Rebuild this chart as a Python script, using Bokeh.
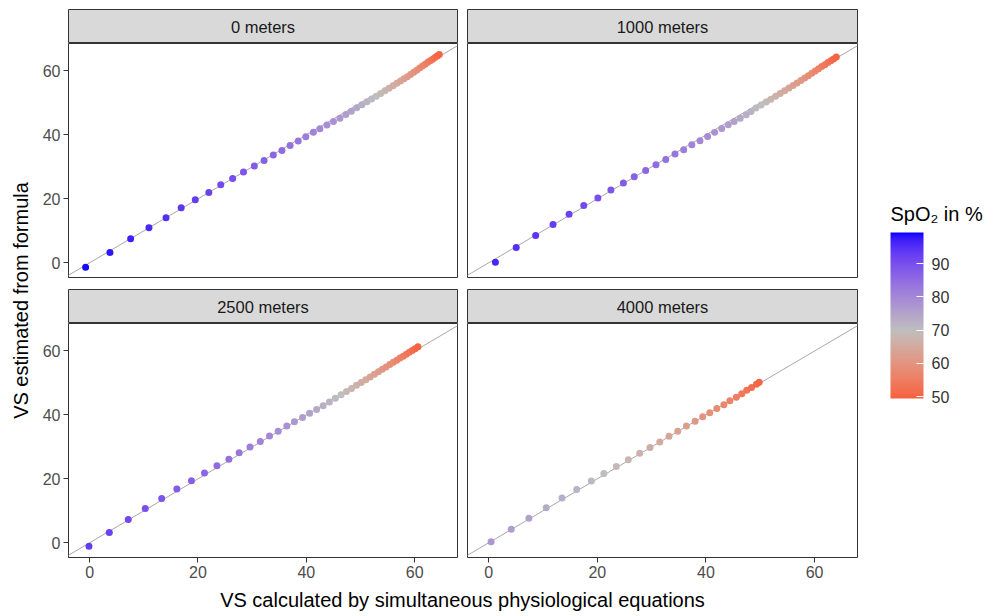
import math
from bokeh.plotting import figure
from bokeh.models import (ColumnDataSource, Range1d, LinearColorMapper, ColorBar,
                          FixedTicker, Label, Slope)
from bokeh.layouts import row, column
from bokeh.embed import file_html
from bokeh.resources import INLINE

# ---------------- data ----------------
panel_titles = ["0 meters", "1000 meters", "2500 meters", "4000 meters"]
x_ticks = [0, 20, 40, 60]
y_ticks = [0, 20, 40, 60]
legend_ticks = [50, 60, 70, 80, 90]
legend_title = "SpO\u2082 in %"
x_title = "VS calculated by simultaneous physiological equations"
y_title = "VS estimated from formula"

vs_calc_0 = [-0.74, 3.75, 7.57, 10.95, 14.1, 16.9, 19.5, 22.0, 24.2, 26.4, 28.4, 30.4, 32.2,
             33.9, 35.5, 37.0, 38.5, 39.9, 41.3, 42.5, 43.8, 45.0, 46.2, 47.3, 48.3, 49.3,
             50.25, 51.17, 52.05, 52.9, 53.72, 54.51, 55.27, 56.0, 56.7, 57.37, 58.01, 58.63,
             59.23, 59.81, 60.37, 60.91, 61.43, 61.93, 62.41, 62.87, 63.31, 63.73, 64.14, 64.54]
vs_est_0 = [-1.37, 3.21, 7.49, 11.0, 14.1, 17.2, 19.7, 22.0, 24.4, 26.4, 28.4, 30.3, 32.0,
            33.7, 35.1, 36.7, 38.1, 39.4, 40.8, 41.9, 43.1, 44.2, 45.2, 46.4, 47.4, 48.5,
            49.45, 50.37, 51.25, 52.1, 52.97, 53.81, 54.62, 55.4, 56.15, 56.87, 57.56, 58.23,
            58.93, 59.61, 60.27, 60.91, 61.53, 62.13, 62.71, 63.22, 63.71, 64.23, 64.69, 65.19]
spo2_0 = [99, 98, 97, 96, 95, 94, 93, 92, 91, 90, 89, 88, 87, 86, 85, 84, 83, 82, 81, 80,
          79, 78, 77, 76, 75, 74, 73, 72, 71, 70, 69, 68, 67, 66, 65, 64, 63, 62, 61, 60,
          59, 58, 57, 56, 55, 54, 53, 52, 51, 50]

vs_calc_1000 = [1.24, 5.07, 8.65, 11.85, 14.8, 17.5, 20.1, 22.5, 24.8, 26.8, 28.9, 30.8, 32.6,
                34.3, 35.9, 37.4, 38.9, 40.3, 41.6, 42.9, 44.1, 45.2, 46.3, 47.4, 48.3, 49.2,
                50.15, 51.07, 51.96, 52.83, 53.67, 54.48, 55.27, 56.03, 56.77, 57.48, 58.17,
                58.84, 59.49, 60.12, 60.73, 61.32, 61.89, 62.44, 62.97, 63.49, 64.0]
vs_est_1000 = [0.2, 4.8, 8.5, 12.0, 15.2, 17.9, 20.3, 22.8, 24.96, 26.9, 28.9, 30.7, 32.3,
               34.0, 35.4, 36.9, 38.2, 39.5, 40.8, 42.0, 43.2, 44.2, 45.2, 46.3, 47.3, 48.4,
               49.35, 50.27, 51.16, 52.08, 52.97, 53.83, 54.67, 55.48, 56.27, 57.03, 57.77,
               58.54, 59.29, 60.02, 60.73, 61.37, 61.99, 62.64, 63.22, 63.79, 64.4]
spo2_1000 = [96, 95, 94, 93, 92, 91, 90, 89, 88, 87, 86, 85, 84, 83, 82, 81, 80, 79, 78, 77,
             76, 75, 74, 73, 72, 71, 70, 69, 68, 67, 66, 65, 64, 63, 62, 61, 60, 59, 58, 57,
             56, 55, 54, 53, 52, 51, 50]

vs_calc_2500 = [-0.12, 3.63, 7.13, 10.27, 13.3, 16.1, 18.8, 21.2, 23.5, 25.7, 27.6, 29.6, 31.5,
                33.2, 34.8, 36.4, 37.8, 39.3, 40.6, 41.9,
                43.1, 44.25, 45.35, 46.4, 47.4, 48.35, 49.25, 50.12, 50.96, 51.77, 52.55, 53.3,
                54.02, 54.72, 55.4, 56.05, 56.68, 57.29, 57.88, 58.45, 59.0, 59.54, 60.07, 60.6]
vs_est_2500 = [-1.05, 3.22, 7.29, 10.74, 13.87, 16.8, 19.4, 21.8, 24.1, 26.1, 28.2, 30.0, 31.7,
               33.4, 34.9, 36.5, 37.9, 39.2, 40.5, 41.7,
               42.9, 44.05, 45.2, 46.3, 47.3, 48.3, 49.25, 50.12, 51.01, 51.87, 52.7, 53.5,
               54.27, 55.02, 55.75, 56.45, 57.13, 57.79, 58.38, 59.0, 59.6, 60.19, 60.72, 61.3]
spo2_2500 = [93, 92, 91, 90, 89, 88, 87, 86, 85, 84, 83, 82, 81, 80, 79, 78, 77, 76, 75, 74,
             73, 72, 71, 70, 69, 68, 67, 66, 65, 64, 63, 62, 61, 60, 59, 58, 57, 56, 55, 54,
             53, 52, 51, 50]

vs_calc_4000 = [0.44, 4.15, 7.4, 10.6, 13.5, 16.2, 18.9, 21.2, 23.5, 25.7, 27.8, 29.7, 31.5,
                33.2, 34.8, 36.4, 38.0, 39.4, 40.7, 42.0, 43.3, 44.4, 45.6, 46.6, 47.5, 48.4,
                49.3, 49.8]
vs_est_4000 = [0.3, 4.2, 7.7, 11.0, 14.0, 16.7, 19.3, 21.7, 23.9, 26.0, 28.0, 29.8, 31.5,
               33.3, 34.9, 36.5, 38.0, 39.4, 40.7, 42.0, 43.2, 44.4, 45.5, 46.6, 47.7, 48.6,
               49.6, 50.2]
spo2_4000 = [77, 76, 75, 74, 73, 72, 71, 70, 69, 68, 67, 66, 65, 64, 63, 62, 61, 60, 59, 58,
             57, 56, 55, 54, 53, 52, 51, 50]

spo2_limits = (49.4, 99.4)
spo2_mid = 70

# ---------------- colour palette (diverging, Lab interpolation) ----------------
def _hex_to_rgb(h):
    h = h.lstrip("#")
    return [int(h[i:i + 2], 16) / 255.0 for i in (0, 2, 4)]

def _lin(c):
    return c / 12.92 if c <= 0.04045 else ((c + 0.055) / 1.055) ** 2.4

def _delin(c):
    c = max(0.0, min(1.0, c))
    return 12.92 * c if c <= 0.0031308 else 1.055 * c ** (1 / 2.4) - 0.055

WX, WY, WZ = 0.95047, 1.0, 1.08883

def _f(t):
    return t ** (1 / 3) if t > 0.008856 else 7.787 * t + 16 / 116

def _finv(t):
    return t ** 3 if t ** 3 > 0.008856 else (t - 16 / 116) / 7.787

def to_lab(h):
    r, g, b = [_lin(c) for c in _hex_to_rgb(h)]
    X = 0.4124 * r + 0.3576 * g + 0.1805 * b
    Y = 0.2126 * r + 0.7152 * g + 0.0722 * b
    Z = 0.0193 * r + 0.1192 * g + 0.9505 * b
    fx, fy, fz = _f(X / WX), _f(Y / WY), _f(Z / WZ)
    return (116 * fy - 16, 500 * (fx - fy), 200 * (fy - fz))

def from_lab(L, a, b):
    fy = (L + 16) / 116
    fx = fy + a / 500
    fz = fy - b / 200
    X, Y, Z = WX * _finv(fx), WY * _finv(fy), WZ * _finv(fz)
    r = 3.2406 * X - 1.5372 * Y - 0.4986 * Z
    g = -0.9689 * X + 1.8758 * Y + 0.0415 * Z
    bb = 0.0557 * X - 0.2040 * Y + 1.0570 * Z
    return "#%02x%02x%02x" % tuple(int(round(_delin(c) * 255)) for c in (r, g, bb))

LOW, MID, HIGH = to_lab("#FF0000"), to_lab("#BEBEBE"), to_lab("#0000FF")

def mix(c1, c2, f):
    return from_lab(*[c1[i] + (c2[i] - c1[i]) * f for i in range(3)])

lo, hi = spo2_limits
half = max(hi - spo2_mid, spo2_mid - lo)
palette = []
for i in range(256):
    v = lo + (hi - lo) * i / 255
    t = 0.5 + (v - spo2_mid) / (2 * half)
    if t < 0.5:
        palette.append(mix(LOW, MID, t / 0.5))
    else:
        palette.append(mix(MID, HIGH, (t - 0.5) / 0.5))

mapper = LinearColorMapper(palette=palette, low=lo, high=hi)

# ---------------- styling ----------------
FONT = "Liberation Sans"
x_range = Range1d(-3.9, 67.9)
y_range = Range1d(-4.6, 68.6)
YW = 36            # width of the y-title strip
LB = 68 - YW       # left border of the first column

def strip_fig(title, width, left, right, top):
    s = figure(width=width, height=34 + top, x_range=Range1d(0, 1), y_range=Range1d(0, 1),
               x_axis_location=None, y_axis_location=None, toolbar_location=None,
               output_backend="svg", min_border_left=left, min_border_right=right,
               min_border_top=top, min_border_bottom=0,
               background_fill_color="#D9D9D9", border_fill_color="white",
               outline_line_color="#333333", outline_line_width=1)
    s.grid.visible = False
    s.add_layout(Label(x=0.5, y=0.5, text=title, text_align="center", text_baseline="middle",
                       text_font=FONT, text_font_size="16.5px", text_color="#1A1A1A"))
    return s

def panel_fig(xs, ys, sp, width, height, left, right, bottom, show_x, show_y):
    p = figure(width=width, height=height, x_range=x_range, y_range=y_range,
               x_axis_location="below" if show_x else None,
               y_axis_location="left" if show_y else None,
               toolbar_location=None, output_backend="svg",
               min_border_left=left, min_border_right=right, min_border_top=0,
               min_border_bottom=bottom, background_fill_color="white",
               border_fill_color="white", outline_line_color="#333333", outline_line_width=1)
    p.grid.visible = False
    for ax, ticks in ((p.xaxis, x_ticks), (p.yaxis, y_ticks)):
        ax.ticker = FixedTicker(ticks=ticks)
        ax.axis_line_color = None
        ax.major_tick_line_color = "#333333"
        ax.major_tick_in = 0
        ax.major_tick_out = 5
        ax.minor_tick_line_color = None
        ax.major_label_text_font = FONT
        ax.major_label_text_font_size = "16px"
        ax.major_label_text_color = "#4D4D4D"
        ax.major_label_standoff = 3
    p.add_layout(Slope(gradient=1, y_intercept=0, line_color="#A8A8A8", line_width=1,
                       level="underlay"))
    src = ColumnDataSource(dict(x=xs, y=ys, spo2=sp))
    p.scatter("x", "y", source=src, size=7,
              fill_color={"field": "spo2", "transform": mapper},
              line_color=None, fill_alpha=1.0)
    return p

ROW_H = 587
W1 = 462 - YW
# column 1 (x YW..462)
s1 = strip_fig(panel_titles[0], W1, LB, 5, 9)
p1 = panel_fig(vs_calc_0, vs_est_0, spo2_0, W1, 240, LB, 5, 6, False, True)
s3 = strip_fig(panel_titles[2], W1, LB, 5, 6)
p3 = panel_fig(vs_calc_2500, vs_est_2500, spo2_2500, W1, ROW_H - 43 - 240 - 40,
               LB, 5, ROW_H - 557, True, True)
# column 2 (x 462..862)
s2 = strip_fig(panel_titles[1], 400, 5, 5, 9)
p2 = panel_fig(vs_calc_1000, vs_est_1000, spo2_1000, 400, 240, 5, 5, 6, False, False)
s4 = strip_fig(panel_titles[3], 400, 5, 5, 6)
p4 = panel_fig(vs_calc_4000, vs_est_4000, spo2_4000, 400, ROW_H - 43 - 240 - 40,
               5, 5, ROW_H - 557, True, False)

def blank_fig(width, height):
    f = figure(width=width, height=height, x_range=Range1d(0, 1), y_range=Range1d(0, 1),
               x_axis_location=None, y_axis_location=None, toolbar_location=None,
               output_backend="svg", min_border=0, outline_line_color=None,
               background_fill_color="white", border_fill_color="white")
    f.grid.visible = False
    return f

# y-axis title
yfig = blank_fig(YW, ROW_H)
yfig.add_layout(Label(x=20, y=ROW_H - 300, x_units="screen", y_units="screen", text=y_title,
                      angle=math.pi / 2, text_align="center", text_baseline="middle",
                      text_font=FONT, text_font_size="20px", text_color="black"))

# legend
leg = blank_fig(129, ROW_H)
leg.add_layout(Label(x=28, y=ROW_H - 213, x_units="screen", y_units="screen", text=legend_title,
                     text_align="left", text_baseline="middle", text_font=FONT,
                     text_font_size="20px", text_color="black"))
cb = ColorBar(color_mapper=mapper, ticker=FixedTicker(ticks=legend_ticks),
              location=(28, ROW_H - 398), width=33, height=166, padding=0,
              orientation="vertical", bar_line_color=None, border_line_color=None,
              background_fill_color=None,
              major_tick_line_color="white", major_tick_in=7, major_tick_out=0,
              minor_tick_line_color=None, label_standoff=8,
              major_label_text_font=FONT, major_label_text_font_size="16px",
              major_label_text_color="#333333")
leg.add_layout(cb, "center")

# x-axis title
xfig = blank_fig(991, 616 - ROW_H)
xfig.add_layout(Label(x=462, y=(616 - ROW_H) - (599 - ROW_H), x_units="screen", y_units="screen",
                      text=x_title, text_align="center", text_baseline="middle",
                      text_font=FONT, text_font_size="20px", text_color="black"))

layout = column(
    row(yfig, column(s1, p1, s3, p3), column(s2, p2, s4, p4), leg),
    xfig,
)

open("out.html", "w").write(file_html(layout, INLINE))
